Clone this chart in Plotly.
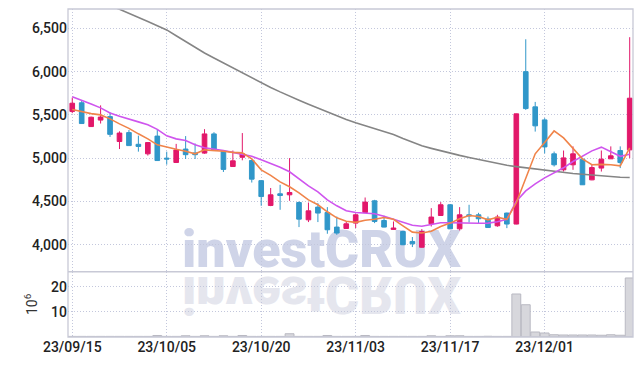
import plotly.graph_objects as go

dates = ["2023-09-15", "2023-09-18", "2023-09-19", "2023-09-20", "2023-09-21", "2023-09-22",
         "2023-09-25", "2023-09-26", "2023-09-27", "2023-10-04", "2023-10-05", "2023-10-06",
         "2023-10-10", "2023-10-11", "2023-10-12", "2023-10-13", "2023-10-16", "2023-10-17",
         "2023-10-18", "2023-10-19", "2023-10-20", "2023-10-23", "2023-10-24", "2023-10-25",
         "2023-10-26", "2023-10-27", "2023-10-30", "2023-10-31", "2023-11-01", "2023-11-02",
         "2023-11-03", "2023-11-06", "2023-11-07", "2023-11-08", "2023-11-09", "2023-11-10",
         "2023-11-13", "2023-11-14", "2023-11-15", "2023-11-16", "2023-11-17", "2023-11-20",
         "2023-11-21", "2023-11-22", "2023-11-23", "2023-11-24", "2023-11-27", "2023-11-28",
         "2023-11-29", "2023-11-30", "2023-12-01", "2023-12-04", "2023-12-05", "2023-12-06",
         "2023-12-07", "2023-12-08", "2023-12-11", "2023-12-12", "2023-12-13", "2023-12-14"]

opens = [5540, 5640, 5365, 5440, 5480, 5192, 5295, 5160, 5050, 5255, 5000, 4950,
         5105, 5060, 5058, 5280, 5075, 4903, 5010, 4972, 4740, 4453, 4588, 4576,
         4487, 4287, 4434, 4372, 4203, 4187, 4249, 4372, 4507, 4279, 4176, 4152,
         4037, 3970, 4241, 4337, 4461, 4183, 4345, 4345, 4296, 4218, 4365, 4238,
         6000, 5593, 5442, 5050, 4865, 4923, 4988, 4749, 4885, 4992, 5088, 5096]
highs = [5700, 5665, 5480, 5610, 5530, 5310, 5325, 5260, 5185, 5330, 5075, 5165,
         5255, 5170, 5335, 5300, 5085, 5088, 5290, 4985, 4745, 4655, 4692, 5000,
         4500, 4487, 4480, 4434, 4325, 4268, 4358, 4545, 4518, 4334, 4268, 4160,
         4088, 4180, 4422, 4492, 4470, 4434, 4461, 4368, 4325, 4345, 4370, 5515,
         6374, 5650, 5462, 5076, 5088, 5136, 5003, 4923, 5088, 5136, 5136, 6398]
lows = [5520, 5395, 5360, 5400, 5245, 5105, 5145, 5075, 5030, 4970, 4925, 4945,
        4990, 4990, 5050, 5085, 4840, 4900, 4975, 4718, 4449, 4445, 4403, 4507,
        4203, 4261, 4261, 4126, 4114, 4185, 4192, 4365, 4249, 4200, 4175, 3995,
        3972, 3965, 4210, 4335, 4180, 4164, 4256, 4249, 4195, 4207, 4191, 4235,
        5558, 5307, 5055, 4903, 4845, 4865, 4690, 4745, 4845, 4990, 4885, 5000]
closes = [5635, 5400, 5473, 5475, 5275, 5290, 5145, 5135, 5180, 4972, 4990, 5095,
          5040, 5040, 5280, 5088, 4870, 4969, 5050, 4757, 4556, 4576, 4568, 4603,
          4295, 4391, 4365, 4172, 4134, 4241, 4345, 4492, 4268, 4203, 4192, 3999,
          4010, 4152, 4319, 4461, 4183, 4345, 4334, 4299, 4198, 4319, 4238, 5512,
          5573, 5373, 5130, 4923, 5003, 5050, 4692, 4891, 4988, 5027, 4949, 5693]

ma5 = [5562, 5535, 5515, 5500, 5454, 5396, 5344, 5281, 5223, 5154, 5125, 5102,
       5079, 5050, 5096, 5090, 5079, 5067, 5061, 4992, 4865, 4801, 4726, 4669,
       4599, 4518, 4461, 4380, 4310, 4270, 4258, 4282, 4293, 4314, 4293, 4218,
       4145, 4134, 4155, 4210, 4249, 4299, 4337, 4326, 4287, 4316, 4293, 4484,
       4772, 5050, 5182, 5315, 5234, 5107, 4992, 4923, 4928, 4923, 4911, 5119]
ma20 = [5711, 5673, 5627, 5581, 5523, 5485, 5448, 5419, 5385, 5333, 5258, 5223,
        5203, 5154, 5121, 5107, 5088, 5067, 5044, 5021, 4980, 4940, 4894, 4842,
        4761, 4680, 4611, 4518, 4449, 4391, 4372, 4368, 4357, 4328, 4293, 4258,
        4224, 4212, 4230, 4253, 4253, 4249, 4247, 4247, 4249, 4264, 4293, 4501,
        4622, 4703, 4772, 4830, 4888, 4961, 5027, 5084, 5127, 5073, 5021, 5044]
ma60 = [6960, 6910, 6860, 6810, 6760, 6721, 6676, 6628, 6579, 6530, 6482, 6415,
        6347, 6279, 6216, 6158, 6101, 6043, 5985, 5927, 5869, 5817, 5766, 5714,
        5670, 5624, 5578, 5532, 5485, 5448, 5410, 5378, 5347, 5315, 5274, 5228,
        5181, 5142, 5113, 5084, 5057, 5032, 5008, 4985, 4961, 4936, 4917, 4902,
        4888, 4873, 4858, 4845, 4834, 4823, 4813, 4804, 4793, 4785, 4779, 4776]

volume_m = [0.25, 0.25, 0.25, 0.25, 0.25, 0.25, 0.25, 0.25, 0.25, 0.6, 0.25, 0.25,
            0.5, 0.25, 0.5, 0.25, 0.5, 0.25, 0.6, 0.25, 0.25, 0.25, 0.25, 1.3,
            0.25, 0.25, 0.25, 0.6, 0.25, 0.25, 0.25, 0.6, 0.25, 0.25, 0.25, 0.25,
            0.25, 0.25, 0.5, 0.25, 0.5, 0.5, 0.25, 0.25, 0.3, 0.25, 0.25, 17.2,
            12.9, 2.0, 1.6, 0.9, 0.8, 0.8, 0.8, 0.8, 0.7, 0.9, 0.7, 23.6]

tick_dates = ["2023-09-15", "2023-10-05", "2023-10-20", "2023-11-03", "2023-11-17", "2023-12-01"]
tick_labels = ["23/09/15", "23/10/05", "23/10/20", "23/11/03", "23/11/17", "23/12/01"]
price_ticks = [4000, 4500, 5000, 5500, 6000, 6500]
price_tick_labels = ["4,000", "4,500", "5,000", "5,500", "6,000", "6,500"]
volume_ticks = [10, 20]

UP = "#e2186a"
DOWN = "#3097c9"
GRID = "#c3c7dc"
AXIS = "#c8c9d6"
FONT = "Roboto, sans-serif"
TICKFONT = dict(family=FONT, size=14, color="#222", weight=500)

fig = go.Figure()
fig.add_trace(go.Candlestick(
    x=dates, open=opens, high=highs, low=lows, close=closes,
    increasing=dict(line=dict(color=UP, width=1), fillcolor=UP),
    decreasing=dict(line=dict(color=DOWN, width=1), fillcolor=DOWN),
    whiskerwidth=0, xaxis="x", yaxis="y", hoverinfo="skip", showlegend=False))
fig.add_trace(go.Scatter(x=dates, y=ma60, mode="lines", line=dict(color="#858585", width=1.6),
                         xaxis="x", yaxis="y", hoverinfo="skip", showlegend=False))
fig.add_trace(go.Scatter(x=dates, y=ma20, mode="lines", line=dict(color="#cf55ee", width=1.6),
                         xaxis="x", yaxis="y", hoverinfo="skip", showlegend=False))
fig.add_trace(go.Scatter(x=dates, y=ma5, mode="lines", line=dict(color="#f0844a", width=1.6),
                         xaxis="x", yaxis="y", hoverinfo="skip", showlegend=False))
fig.add_trace(go.Bar(x=dates, y=volume_m, marker=dict(color="#d7d7dc", line=dict(color="#b9b9c2", width=1)),
                     xaxis="x", yaxis="y2", hoverinfo="skip", showlegend=False))

VOL_TOP = 0.199

fig.update_layout(
    width=642, height=366,
    margin=dict(l=68, r=9, t=9, b=29, autoexpand=False),
    paper_bgcolor="white", plot_bgcolor="white",
    bargap=0.06,
    xaxis=dict(type="category", anchor="y2", range=[-0.45, 59.35], rangeslider=dict(visible=False),
               tickmode="array", tickvals=tick_dates, ticktext=tick_labels, automargin=False,
               showgrid=True, gridcolor=GRID, griddash="1px,2px", gridwidth=1,
               showline=False, ticks="", tickfont=TICKFONT),
    yaxis=dict(domain=[VOL_TOP, 1], range=[3687, 6724], tickmode="array",
               tickvals=price_ticks, ticktext=price_tick_labels, automargin=False,
               showgrid=True, gridcolor=GRID, griddash="1px,2px", gridwidth=1,
               zeroline=False, showline=False, ticks="", tickfont=TICKFONT),
    yaxis2=dict(domain=[0, VOL_TOP], range=[0, 26.1], tickmode="array", tickvals=volume_ticks,
                automargin=False,
                showgrid=True, gridcolor=GRID, griddash="1px,2px", gridwidth=1,
                zeroline=False, showline=False, ticks="", tickfont=TICKFONT,
                title=dict(text="10<sup>6</sup>", font=dict(family=FONT, size=14, color="#333"), standoff=10)),
    shapes=[
        dict(type="rect", xref="paper", yref="paper", x0=0, x1=1, y0=0, y1=1,
             line=dict(color=AXIS, width=1.3), layer="above"),
        dict(type="line", xref="paper", yref="paper", x0=0, x1=1, y0=VOL_TOP, y1=VOL_TOP,
             line=dict(color=AXIS, width=1.3), layer="above"),
    ],
    annotations=[
        dict(text="investCRUX", xref="paper", yref="paper", x=0.45, y=0.168, xanchor="center",
             yanchor="bottom", showarrow=False,
             font=dict(family="Roboto", size=52, color="#cfd4e8", weight=900)),
        dict(text="investCRUX", xref="paper", yref="paper", x=0.45, y=0.168, xanchor="center",
             yanchor="bottom", showarrow=False,
             font=dict(family="Roboto", size=52, color="#e5e6ee", weight=900)),
    ],
)

post = """
(function(){
  document.documentElement.style.margin = '0';
  document.body.style.margin = '0';
  document.body.style.padding = '0';
  document.body.style.overflow = 'hidden';
  var gd = document.getElementById('{plot_id}');
  function fix(){
    var g = gd.querySelector('.annotation[data-index="1"]');
    if(g){ g.setAttribute('transform', 'matrix(1 0 0 -1 0 544)'); }
    try {
      var svg = gd.querySelector('.main-svg');
      var cart = svg.querySelector('.cartesianlayer');
      var holder = svg.querySelector('g.watermark-holder');
      if(!holder){
        holder = document.createElementNS('http://www.w3.org/2000/svg', 'g');
        holder.setAttribute('class', 'watermark-holder');
        svg.insertBefore(holder, cart);
      }
      gd.querySelectorAll('.infolayer .annotation').forEach(function(a){ holder.appendChild(a); });
    } catch(e) {}
  }
  fix();
  gd.on && gd.on('plotly_afterplot', fix);
})();
"""
fig.write_html("out.html", post_script=post, config={"responsive": False, "displayModeBar": False})
